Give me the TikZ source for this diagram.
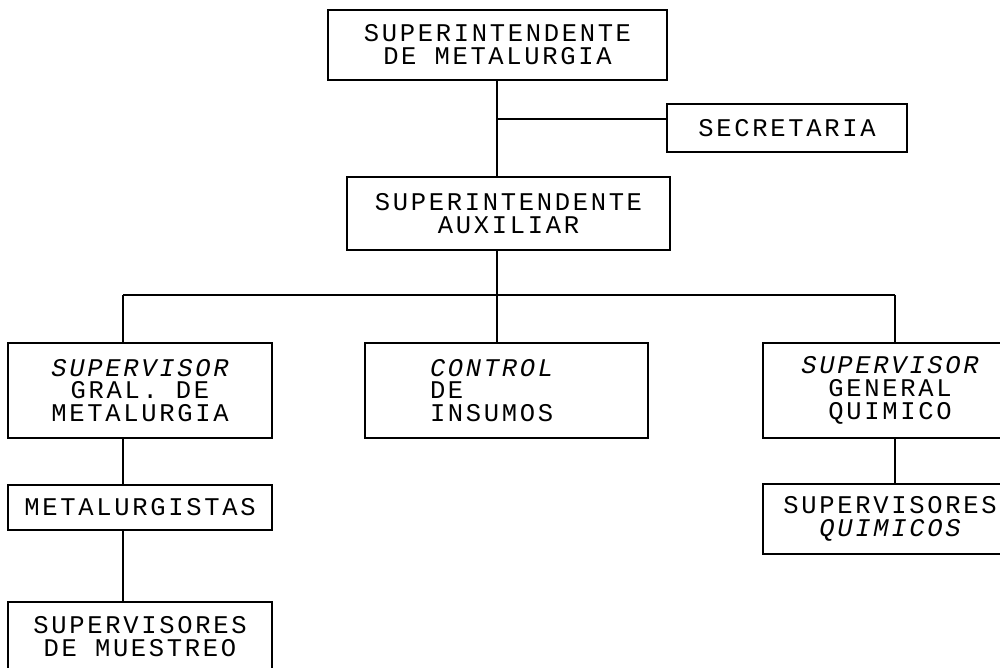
\documentclass[tikz,border=0pt]{standalone}
\usepackage{fontspec}
\newfontfamily\impresora[LetterSpace=10.6]{Liberation Mono}
\tikzset{
    cargo/.style={draw,line width=1.1pt,inner sep=0pt,align=center,
        font=\impresora\fontsize{14.5}{13}\selectfont},
    enlace/.style={black,line width=1.5pt},
}

\begin{document}
\begin{tikzpicture}[x=0.2mm,y=-0.2mm]
\useasboundingbox (0,0) rectangle (1000,667);
\clip (0,0) rectangle (1000,667);
% puestos
\node[cargo,minimum width=67.8mm,minimum height=14mm] (sup) at (497.5,45) {SUPERINTENDENTE\\DE METALURGIA};
\node[cargo,minimum width=48mm,minimum height=9.6mm] (sec) at (787,128) {SECRETARIA};
\node[cargo,minimum width=64.6mm,minimum height=14.6mm] (aux) at (508.5,213.5) {SUPERINTENDENTE\\AUXILIAR};
\node[cargo,minimum width=52.8mm,minimum height=19mm] (sgm) at (140,390.5) {{\itshape SUPERVISOR}\\GRAL. DE\\METALURGIA};
\node[cargo,minimum width=56.6mm,minimum height=19mm,text width=30.6mm,inner xsep=13mm,align=left] (ctl) at (506.5,390.5) {{\itshape CONTROL}\\DE\\INSUMOS};
\node[cargo,minimum width=50.8mm,minimum height=19mm] (sgq) at (890,390.5) {{\itshape SUPERVISOR}\\GENERAL\\QUIMICO};
\node[cargo,minimum width=52.8mm,minimum height=9mm] (met) at (140,507.5) {METALURGISTAS};
\node[cargo,minimum width=50.8mm,minimum height=14mm] (squ) at (890,519) {SUPERVISORES\\{\itshape QUIMICOS}};
\node[cargo,minimum width=52.8mm,minimum height=14mm] (smu) at (140,637) {SUPERVISORES\\DE MUESTREO};
% lineas
\coordinate (nudo) at (497,119);
\coordinate (rama) at (497,295);
\coordinate (izq) at (123,295);
\coordinate (der) at (895,295);
\draw[enlace] (rama |- sup.south) -- (rama |- aux.north);
\draw[enlace] (nudo) -- (nudo -| sec.west);
\draw[enlace] (rama |- aux.south) -- (rama |- ctl.north);
\draw[enlace] (izq) -- (der);
\draw[enlace] (izq) -- (izq |- sgm.north);
\draw[enlace] (der) -- (der |- sgq.north);
\draw[enlace] (izq |- sgm.south) -- (izq |- met.north);
\draw[enlace] (izq |- met.south) -- (izq |- smu.north);
\draw[enlace] (der |- sgq.south) -- (der |- squ.north);
\end{tikzpicture}
\end{document}
